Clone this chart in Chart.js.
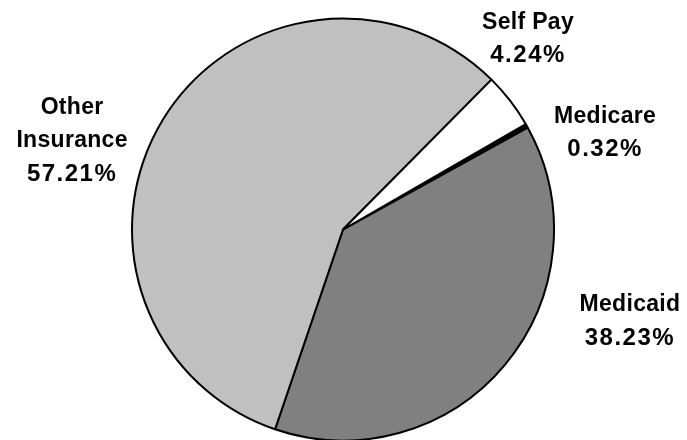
<!DOCTYPE html>
<html>
<head>
<meta charset="utf-8">
<script src="https://cdn.jsdelivr.net/npm/chart.js@4"></script>
<style>
    html, body { margin: 0; padding: 0; background: #ffffff; }
    #wrap { width: 687px; height: 440px; }
</style>
</head>
<body>
<div id="wrap"><canvas id="myChart"></canvas></div>
<script>
// Payer categories, clockwise from the top right
const categories = ['Medicare', 'Medicaid', 'Other Insurance', 'Self Pay'];
const shares = [0.32, 38.23, 57.21, 4.24];
const labelLines = [['Medicare'], ['Medicaid'], ['Other', 'Insurance'], ['Self Pay']];
const sliceColors = ['#000000', '#808080', '#c0c0c0', '#ffffff'];

// where each label block sits, in units of the pie radius from its centre
const labelSpots = [[1.242, -0.457], [1.360, 0.436], [-1.284, -0.419], [0.877, -0.903]];

// Draw the outside labels (name + percent) next to each slice
const outsideLabels = {
    id: 'outsideLabels',
    afterDatasetsDraw(chart) {
        const ctx = chart.ctx;
        const arc = chart.getDatasetMeta(0).data[0];
        const cx = arc.x, cy = arc.y, r = arc.outerRadius;
        ctx.save();
        ctx.fillStyle = '#000000';
        ctx.textAlign = 'center';
        ctx.textBaseline = 'middle';
        const lineH = 33;
        shares.forEach((v, i) => {
            const lines = labelLines[i].concat([v.toFixed(2) + '%']);
            const x = cx + labelSpots[i][0] * r;
            const y0 = cy + labelSpots[i][1] * r - (lines.length - 1) * lineH / 2;
            lines.forEach((t, k) => {
                const isPct = k === lines.length - 1;
                ctx.font = (isPct ? 'bold 24px' : 'bold 23px') + ' "Liberation Sans", Arial, sans-serif';
                ctx.letterSpacing = isPct ? '1.5px' : '0.3px';
                ctx.fillText(t, x, y0 + k * lineH);
            });
        });
        ctx.restore();
    }
};

const config = {
    type: 'pie',
    data: {
        labels: categories,
        datasets: [{
            data: shares,
            backgroundColor: sliceColors,
            borderColor: '#000000',
            borderWidth: 2,
            radius: 211
        }]
    },
    options: {
        responsive: true,
        maintainAspectRatio: false,
        animation: false,
        rotation: 60,
        layout: { padding: { top: 19, bottom: 0, left: 0, right: 1 } },
        plugins: {
            legend: { display: false },
            tooltip: { enabled: false }
        }
    },
    plugins: [outsideLabels]
};

new Chart(document.getElementById('myChart').getContext('2d'), config);
</script>
</body>
</html>
